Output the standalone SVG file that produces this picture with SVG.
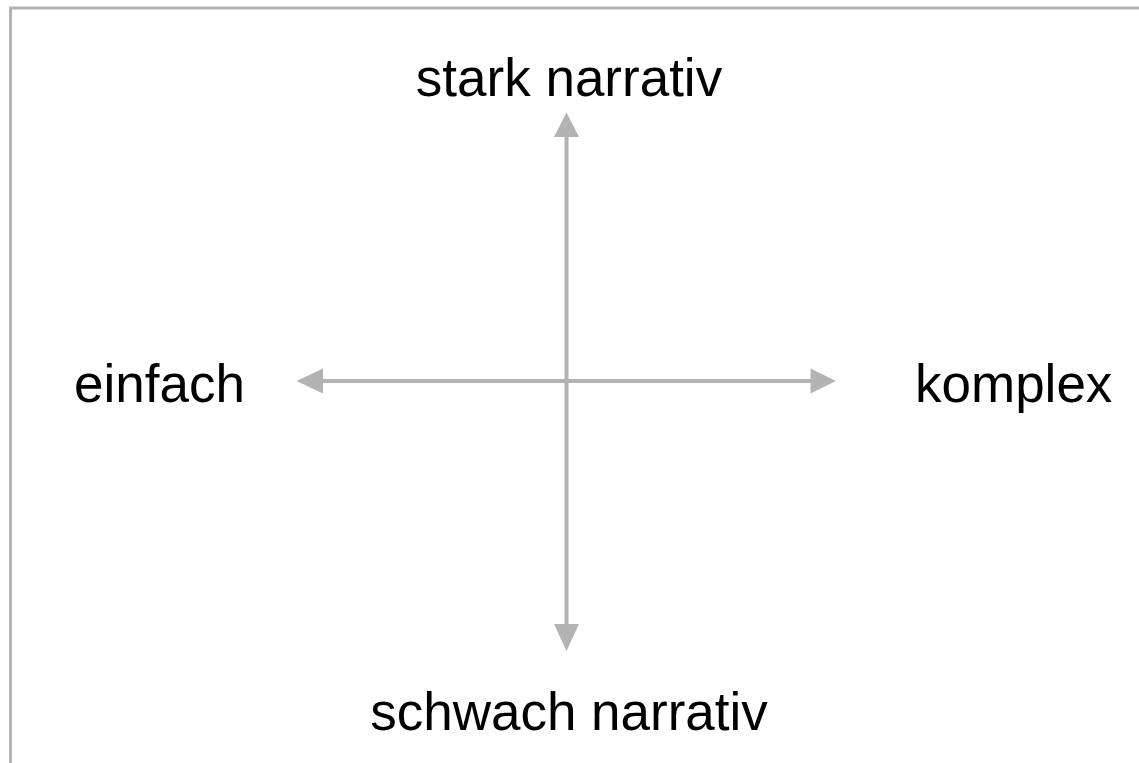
<svg xmlns="http://www.w3.org/2000/svg" width="1139" height="763" viewBox="0 0 1139 763">
  <style>
    .frame { stroke: #b3b3b3; stroke-width: 3; fill: none; }
    .axis { stroke: #b3b3b3; stroke-width: 4; fill: none; }
    .head { fill: #b3b3b3; stroke: none; }
    .label { font-family: "Liberation Sans", Arial, sans-serif; font-size: 53px; fill: #000000; }
  </style>
  <rect x="0" y="0" width="1139" height="763" fill="#ffffff"/>
  <g id="frame">
    <path class="frame" d="M10.5 763 V8 H1139"/>
  </g>
  <g id="connectors">
    <line class="axis" x1="566.5" y1="135" x2="566.5" y2="626"/>
    <polygon class="head" points="566.5,112.5 554,137 579,137"/>
    <polygon class="head" points="566.5,651 554,624 579,624"/>
    <line class="axis" x1="321" y1="381" x2="813" y2="381"/>
    <polygon class="head" points="296.5,381 323,368.5 323,393.5"/>
    <polygon class="head" points="836,381 810.5,368.5 810.5,393.5"/>
  </g>
  <g id="node-top">
    <text class="label" x="569" y="96" text-anchor="middle">stark narrativ</text>
  </g>
  <g id="node-bottom">
    <text class="label" x="569" y="730" text-anchor="middle">schwach narrativ</text>
  </g>
  <g id="node-left">
    <text class="label" x="74" y="402">einfach</text>
  </g>
  <g id="node-right">
    <text class="label" x="915" y="402">komplex</text>
  </g>
</svg>
